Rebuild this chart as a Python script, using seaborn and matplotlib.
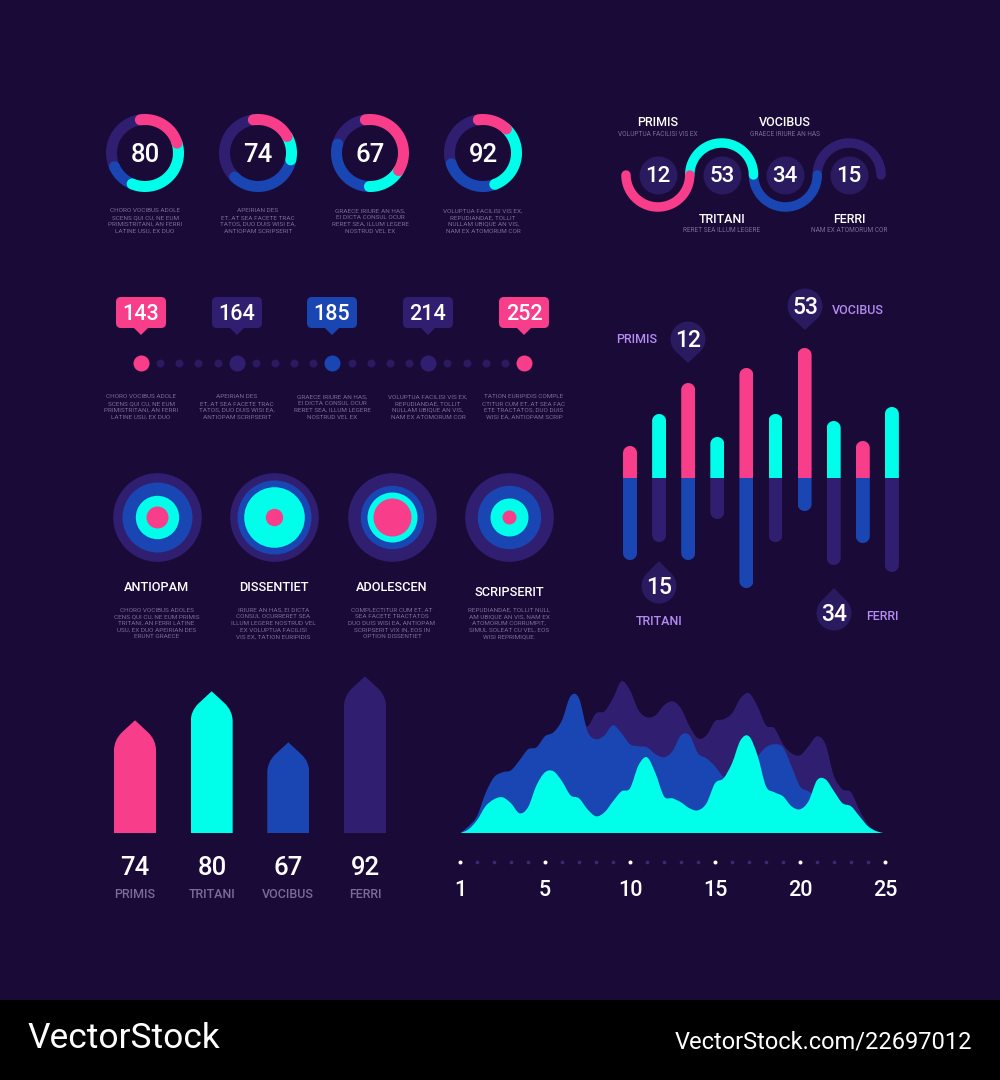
import numpy as np
import matplotlib
matplotlib.use('Agg')
import matplotlib.pyplot as plt
from matplotlib.patches import FancyBboxPatch, Polygon, Circle, Rectangle, PathPatch
from matplotlib.path import Path
import seaborn as sns

sns.set_theme(style='dark')
plt.rcParams['font.family'] = ['Roboto', 'DejaVu Sans']

BG = '#1A0A38'
PINK = '#F83E8A'
CYAN = '#00FFEA'
BLUE = '#1A46B4'
PURPLE = '#301F70'
DOT = '#2A1A60'
MUTED = '#7A6C98'
LAVENDER = '#B48CF2'

# donuts, share of the ring in percent: pink, cyan, blue, purple
donut_values = [80, 74, 67, 92]
donut_pink = [22.5, 19, 36, 14.5]
donut_cyan = [36, 11.5, 16.5, 32]
donut_blue = [12, 34, 29, 25.5]
donut_purple = [29.5, 35.5, 18.5, 28]
donut_captions = [
    'CHORO VOCIBUS ADOLE\nSCENS QUI CU, NE EUM\nPRIMISTRITANI, AN FERRI\nLATINE USU, EX DUO',
    'APEIRIAN DES\nET, AT SEA FACETE TRAC\nTATOS, DUO DUIS WISI EA,\nANTIOPAM SCRIPSERIT',
    'GRAECE IRIURE AN HAS,\nEI DICTA CONSUL OCUR\nRERET SEA, ILLUM LEGERE\nNOSTRUD VEL EX',
    'VOLUPTUA FACILISI VIS EX,\nREPUDIANDAE, TOLLIT\nNULLAM UBIQUE AN VIS,\nNAM EX ATOMORUM COR',
]

# wave
wave_values = [12, 53, 34, 15]
wave_names = ['PRIMIS', 'TRITANI', 'VOCIBUS', 'FERRI']
wave_subs = ['VOLUPTUA FACILISI VIS EX', 'RERET SEA ILLUM LEGERE', 'GRAECE IRIURE AN HAS', 'NAM EX ATOMORUM COR']

# timeline
timeline_values = [143, 164, 185, 214, 252]
timeline_colors = [PINK, PURPLE, BLUE, PURPLE, PINK]
timeline_captions = donut_captions + [
    'TATION EURIPIDIS COMPLE\nCTITUR CUM ET, AT SEA FAC\nETE TRACTATOS, DUO DUIS\nWISI EA, ANTIOPAM SCRIP',
]

# diverging bars
bars_up = [32, 64, 95, 41, 110, 64, 130, 57, 37, 71]
bars_down = [82, 64, 82, 41, 110, 64, 33, 87, 65, 94]
bars_up_colors = [PINK, CYAN] * 5
bars_down_colors = [BLUE, PURPLE] * 5
pin_values = [12, 53, 15, 34]
pin_names = ['PRIMIS', 'VOCIBUS', 'TRITANI', 'FERRI']

# target circles, radius of each ring
target_names = ['ANTIOPAM', 'DISSENTIET', 'ADOLESCEN', 'SCRIPSERIT']
target_purple = [44.3, 44.3, 44.3, 44.3]
target_blue = [35, 37, 31.7, 31.7]
target_cyan = [21.7, 30.3, 25, 19]
target_pink = [11, 8.7, 19, 7]
target_captions = [
    'CHORO VOCIBUS ADOLES\nCENS QUI CU, NE EUM PRIMIS\nTRITANI, AN FERRI LATINE\nUSU, EX DUO APEIRIAN DES\nERUNT GRAECE',
    'IRIURE AN HAS, EI DICTA\nCONSUL OCURRERET SEA\nILLUM LEGERE NOSTRUD VEL\nEX VOLUPTUA FACILISI\nVIS EX, TATION EURIPIDIS',
    'COMPLECTITUR CUM ET, AT\nSEA FACETE TRACTATOS\nDUO DUIS WISI EA, ANTIOPAM\nSCRIPSERIT VIX IN, EOS IN\nOPTION DISSENTIET',
    'REPUDIANDAE, TOLLIT NULL\nAM UBIQUE AN VIS, NAM EX\nATOMORUM CORRUMPIT,\nSIMUL SOLEAT CU VEL, EOS\nWISI REPRIMIQUE.',
]

# arrow bars
arrow_names = ['PRIMIS', 'TRITANI', 'VOCIBUS', 'FERRI']
arrow_labels = [74, 80, 67, 92]
arrow_heights = [113, 142, 91, 157]
arrow_colors = [PINK, CYAN, BLUE, PURPLE]

# area chart, read every half step of the x axis
area_x = np.arange(51) / 2
area_purple = [0, 5, 15, 38, 53, 60, 62, 70, 82, 83,
               93, 97, 107, 113, 113, 107, 120, 122, 135, 152,
               143, 123, 116, 118, 128, 132, 125, 107, 95, 98,
               112, 114, 120, 135, 140, 127, 108, 105, 89, 80,
               78, 87, 97, 89, 57, 44, 41, 23, 9, 2, 0]
area_blue = [0, 7, 17, 40, 56, 61, 63, 73, 84, 86,
             97, 101, 113, 137, 135, 102, 94, 98, 108, 100,
             89, 87, 86, 79, 76, 82, 98, 98, 80, 75,
             67, 56, 50, 50, 57, 76, 86, 89, 86, 67,
             47, 42, 37, 37, 35, 30, 27, 16, 6, 2, 0]
area_cyan = [0, 4, 13, 27, 34, 36, 30, 20, 26, 48,
             61, 62, 52, 38, 35, 24, 17, 21, 32, 42,
             45, 68, 76, 60, 37, 35, 31, 25, 23, 30,
             50, 55, 70, 93, 97, 78, 47, 41, 37, 27,
             24, 32, 53, 54, 42, 30, 27, 17, 7, 2, 0]
area_tick_labels = ['1', '5', '10', '15', '20', '25']

W, H = 1000, 1080
PX = 0.72  # points per pixel at dpi 100

fig = plt.figure(figsize=(W / 100, H / 100), dpi=100, facecolor=BG)


def panel(x0, y0, x1, y1, **kw):
    ax = fig.add_axes([x0 / W, 1 - y1 / H, (x1 - x0) / W, (y1 - y0) / H], **kw)
    ax.patch.set_alpha(0)
    return ax


def area_of(radius):
    # scatter size for a circle of this pixel radius
    return (2 * radius * PX) ** 2


def rounded_tip(bar, r):
    x0, w = bar.get_x(), bar.get_width()
    base, tip = bar.get_y(), bar.get_y() + bar.get_height()
    sign = 1 if tip >= base else -1
    t = np.linspace(0, np.pi, 24)
    xs = x0 + w / 2 + w / 2 * np.cos(t)
    ys = tip - sign * r + sign * r * np.sin(t)
    verts = [(x0 + w, base)] + list(zip(xs, ys)) + [(x0, base), (x0 + w, base)]
    bar.set_clip_path(Path(verts), bar.axes.transData)


def arrow_tip(bar):
    x0, w = bar.get_x(), bar.get_width()
    x1, cx = x0 + w, x0 + w / 2
    top = bar.get_height()
    verts = [(x0, 0), (x0, top - 30), (x0, top - 20), (cx - w * 0.317, top - 12.3), (cx, top),
             (cx + w * 0.317, top - 12.3), (x1, top - 20), (x1, top - 30), (x1, 0), (x0, 0)]
    codes = [Path.MOVETO, Path.LINETO, Path.CURVE3, Path.CURVE3, Path.LINETO,
             Path.LINETO, Path.CURVE3, Path.CURVE3, Path.LINETO, Path.CLOSEPOLY]
    bar.set_clip_path(Path(verts, codes), bar.axes.transData)


def smooth_area(ax, x, y, color):
    # curve drawn through the read points (catmull-rom handles), closed along the baseline
    p = np.column_stack([x, y]).astype(float)
    verts = [(p[0, 0], 0), tuple(p[0])]
    codes = [Path.MOVETO, Path.LINETO]
    for i in range(len(p) - 1):
        before = p[max(i - 1, 0)]
        after = p[min(i + 2, len(p) - 1)]
        verts += [tuple(p[i] + (p[i + 1] - before) / 6), tuple(p[i + 1] - (after - p[i]) / 6), tuple(p[i + 1])]
        codes += [Path.CURVE4] * 3
    verts += [(p[-1, 0], 0), (p[0, 0], 0)]
    codes += [Path.LINETO, Path.CLOSEPOLY]
    ax.add_patch(PathPatch(Path(verts, codes), facecolor=color, linewidth=0))


# ---- donuts
donut_cx = [145, 258, 370, 483]
for i, cx in enumerate(donut_cx):
    ax = panel(cx - 40, 153 - 40, cx + 40, 153 + 40, projection='polar')
    ax.set_theta_zero_location('N')
    ax.set_theta_direction(-1)
    shares = [donut_pink[i], donut_cyan[i], donut_blue[i], donut_purple[i]]
    stops = np.cumsum([0] + shares)
    cols = [PINK, CYAN, BLUE, PURPLE]
    for j in [3, 2, 1, 0]:
        th = np.radians(np.linspace(stops[j], stops[j + 1], 60) * 3.6 - 8)
        ax.plot(th, np.full(60, 33.5), color=cols[j], lw=11 * PX, solid_capstyle='round', clip_on=False)
    ax.set_rlim(0, 40)
    ax.axis('off')

# ---- wave
ax = panel(626, 111, 881, 239)
ax.set_xlim(0, 4)
ax.set_ylim(-1, 1)
ax.axis('off')
wave_cols = [PINK, CYAN, BLUE, PURPLE]
for i in [3, 2, 1, 0]:
    t = np.linspace(0, np.pi, 80)
    sign = -1 if i % 2 == 0 else 1
    ax.plot(i + 0.5 - 0.5 * np.cos(t), sign * 0.5 * np.sin(t), color=wave_cols[i],
            lw=9.5 * PX, solid_capstyle='round', clip_on=False)
sns.scatterplot(x=[0.5, 1.5, 2.5, 3.5], y=[0, 0, 0, 0], s=area_of(19), color=DOT, linewidth=0, ax=ax, zorder=3)
ax.set_xlim(0, 4)
ax.set_ylim(-1, 1)

# ---- timeline dots
ax = panel(121.85, 353, 543.15, 373)
tl_x = list(range(21))
big = {0: 0, 5: 1, 10: 2, 15: 3, 20: 4}
small_x = [k for k in tl_x if k not in big]
sns.scatterplot(x=small_x, y=[0] * len(small_x), s=area_of(4), color=DOT, linewidth=0, ax=ax)
for k, n in big.items():
    sns.scatterplot(x=[k], y=[0], s=area_of(8), color=timeline_colors[n], linewidth=0, ax=ax)
ax.set_xlim(-1, 21)
ax.set_ylim(-1, 1)
ax.axis('off')

# ---- diverging bars
ax = panel(615.45, 328, 906.45, 608)
sns.barplot(x=list(range(10)), y=bars_up, hue=list(range(10)), palette=bars_up_colors,
            width=0.48, saturation=1, legend=False, linewidth=0, ax=ax)
sns.barplot(x=list(range(10)), y=[-v for v in bars_down], hue=list(range(10)), palette=bars_down_colors,
            width=0.48, saturation=1, legend=False, linewidth=0, ax=ax)
ax.set_xlim(-0.5, 9.5)
ax.set_ylim(-130, 150)
for bar in ax.patches:
    rounded_tip(bar, 7)
ax.axis('off')

# ---- target circles
target_cx = [156.5, 273.5, 392, 509]
for i, cx in enumerate(target_cx):
    ax = panel(cx - 46, 517 - 46, cx + 46, 517 + 46)
    for radii, col in [(target_purple, PURPLE), (target_blue, BLUE), (target_cyan, CYAN), (target_pink, PINK)]:
        sns.scatterplot(x=[0], y=[0], s=area_of(radii[i]), color=col, linewidth=0, ax=ax)
    ax.set_xlim(-1, 1)
    ax.set_ylim(-1, 1)
    ax.axis('off')

# ---- arrow bars
ax = panel(96.67, 663.3, 403.33, 833.3)
sns.barplot(x=arrow_names, y=arrow_heights, hue=arrow_names, palette=arrow_colors,
            width=0.548, saturation=1, legend=False, linewidth=0, ax=ax)
ax.set_xlim(-0.5, 3.5)
ax.set_ylim(0, 170)
for bar in ax.patches:
    arrow_tip(bar)
ax.axis('off')

# ---- area chart
ax = panel(460, 663.3, 885, 833.3)
smooth_area(ax, area_x, area_purple, PURPLE)
smooth_area(ax, area_x, area_blue, BLUE)
smooth_area(ax, area_x, area_cyan, CYAN)
ax.set_xlim(0, 25)
ax.set_ylim(0, 170)
ax.axis('off')

ax = panel(460, 852, 885, 872)
tick_x = list(range(26))
major = [k for k in tick_x if k % 5 == 0]
minor = [k for k in tick_x if k % 5 != 0]
sns.scatterplot(x=minor, y=[0] * len(minor), s=area_of(1.8), color='#3A2A70', linewidth=0, ax=ax, clip_on=False)
sns.scatterplot(x=major, y=[0] * len(major), s=area_of(2), color='white', linewidth=0, ax=ax, clip_on=False)
ax.set_xlim(0, 25)
ax.set_ylim(-1, 1)
ax.axis('off')

# ---- everything else: text, callouts, pins, in pixel coordinates
top = panel(0, 0, W, H)
top.set_xlim(0, W)
top.set_ylim(H, 0)
top.axis('off')


def label(x, y, s, size, color='white', weight=500, **kw):
    top.text(x, y + 1.5, s, fontsize=size, color=color, fontweight=weight, ha='center', va='center', **kw)


def caption(x, y, s):
    top.text(x, y, s, fontsize=4.6, color=MUTED, ha='center', va='center', linespacing=1.42, multialignment='center')


for cx, v, cap in zip(donut_cx, donut_values, donut_captions):
    label(cx, 153, str(v), 18.5)
    caption(cx, 221, cap)

wave_x = [658, 722, 785, 849]
wave_name_y = [121, 218, 121, 218]
wave_sub_y = [135, 231, 135, 231]
for i, x in enumerate(wave_x):
    label(x, 175, str(wave_values[i]), 16)
    label(x, wave_name_y[i], wave_names[i], 9)
    top.text(x, wave_sub_y[i], wave_subs[i], fontsize=4.7, color=MUTED, ha='center', va='center')

tl_px = [141, 237, 332, 428, 524]
for i, x in enumerate(tl_px):
    top.add_patch(FancyBboxPatch((x - 20, 302), 40, 21, boxstyle='round,pad=5,rounding_size=5',
                                 facecolor=timeline_colors[i], linewidth=0))
    top.add_patch(Polygon([(x - 8, 327), (x + 8, 327), (x, 335)], facecolor=timeline_colors[i], linewidth=0))
    label(x, 313, str(timeline_values[i]), 15.5)
    caption(x, 407, timeline_captions[i])

# pins: centre x, centre y, tip y, label x, label y
pin_cx = [688, 805, 659, 834]
pin_cy = [339, 306, 586, 613]
pin_tip = [363, 330, 561, 588]
pin_lx = [637, 858, 659, 882]
pin_ly = [338, 309, 620, 615]
for i in range(4):
    sign = 1 if pin_tip[i] > pin_cy[i] else -1
    top.add_patch(Circle((pin_cx[i], pin_cy[i]), 17.5, facecolor=DOT, linewidth=0))
    top.add_patch(Polygon([(pin_cx[i] - 11.9, pin_cy[i] + sign * 12.8), (pin_cx[i] + 11.9, pin_cy[i] + sign * 12.8),
                           (pin_cx[i], pin_tip[i])], facecolor=DOT, linewidth=0))
    label(pin_cx[i], pin_cy[i], str(pin_values[i]), 16.5)
    label(pin_lx[i], pin_ly[i], pin_names[i], 9, color=LAVENDER)

target_name_y = [586, 586, 586, 590.6]
for i, cx in enumerate(target_cx):
    label(cx, target_name_y[i], target_names[i], 9.2)
    caption(cx, 623.5, target_captions[i])

arrow_x = [135, 212, 288, 365]
for i, x in enumerate(arrow_x):
    label(x, 866.5, str(arrow_labels[i]), 18.5)
    label(x, 892.5, arrow_names[i], 9, color=MUTED)

for x, s in zip([460, 545, 630, 715, 800, 885], area_tick_labels):
    label(x, 889, s, 15.5)

# black footer
top.add_patch(Rectangle((0, 1000), W, 80, facecolor='black', linewidth=0))
top.text(27, 1039, 'VectorStock', fontsize=25.5, color='white', va='center', ha='left')
top.text(972, 1042, 'VectorStock.com/22697012', fontsize=17, color='white', va='center', ha='right')

fig.savefig('out.png', dpi=100, facecolor=BG)
